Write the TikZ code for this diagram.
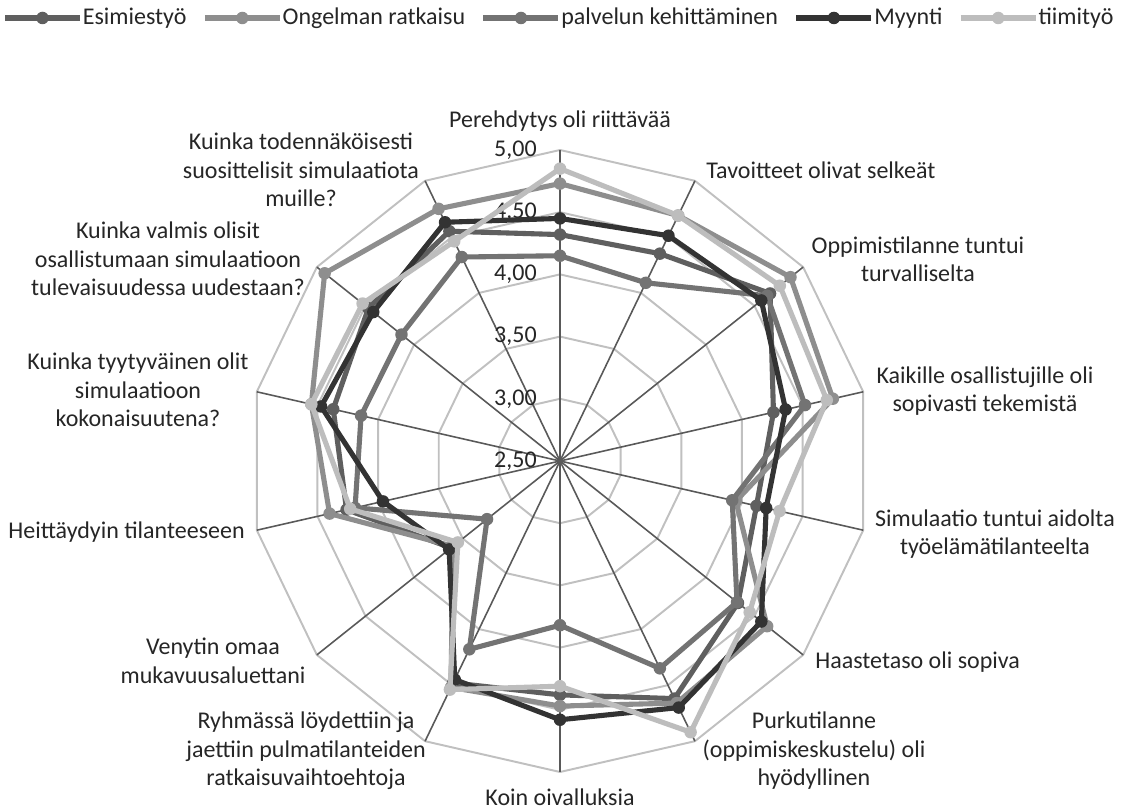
\documentclass[tikz,border=0pt]{standalone}
\usepackage{fontspec}
\setmainfont{Carlito}
\usepackage{tikz}
\usetikzlibrary{positioning}
\definecolor{gEsim}{HTML}{5F5F5F}
\definecolor{gOngel}{HTML}{8E8E8E}
\definecolor{gPalv}{HTML}{737373}
\definecolor{gMyyn}{HTML}{333333}
\definecolor{gTiimi}{HTML}{BDBDBD}
\definecolor{gRing}{HTML}{C0C0C0}
\definecolor{gSpoke}{HTML}{595959}
\definecolor{gText}{HTML}{262626}

\newcommand{\radscale}{124.4}
% #1 name prefix, #2 colour, #3 the 14 values
\newcommand{\drawseries}[3]{%
  \foreach \v [count=\k from 0] in {#3}
    \coordinate (#1\k) at ({90-\k*360/14}:{(\v-2.5)*\radscale});
  \draw[ser=#2] (#10) \foreach \k in {1,...,13}{ -- (#1\k)} -- cycle;
  \foreach \k in {0,...,13}
    \fill[#2] (#1\k) circle (0.125cm);
}

\begin{document}
\begin{tikzpicture}[x=0.02cm, y=0.02cm,
  lbl/.style={font=\fontsize{13.66}{16.2}\selectfont, text=gText, align=center, inner sep=0pt},
  tick/.style={lbl, anchor=east},
  ring/.style={draw=gRing, line width=1.1pt},
  spoke/.style={draw=gSpoke, line width=0.9pt},
  ser/.style={draw=#1, line width=2.9pt, line join=round},
  legline/.style={draw=#1, line width=2.9pt}
]
\path[use as bounding box, fill=white] (0,0) rectangle (1124,811);

\begin{scope}[shift={(560,350)}]
  \coordinate (ctr) at (0,0);
  \foreach \j in {1,...,5}
    \draw[ring] (90:{\j*62.2}) \foreach \k in {1,...,13}{ -- ({90-\k*360/14}:{\j*62.2})} -- cycle;
  \foreach \k in {0,...,13} {
    \coordinate (ax\k) at ({90-\k*360/14}:311);
    \draw[spoke] (ctr) -- (ax\k);
  }
  \foreach \t [count=\j from 0] in {{2,50},{3,00},{3,50},{4,00},{4,50},{5,00}}
    \node[tick] (tk\j) at (-23,{\j*62.2}) {\t};

  \drawseries{es}{gEsim}{4.32,4.35,4.66,4.26,4.12,4.33,4.62,4.38,4.48,3.62,4.26,4.37,4.47,4.55}
  \drawseries{on}{gOngel}{4.73,4.69,4.87,4.75,3.95,4.63,4.66,4.47,4.52,3.60,4.40,4.55,4.92,4.75}
  \drawseries{pk}{gPalv}{4.15,4.09,4.63,4.52,3.92,4.32,4.35,3.82,4.18,3.25,4.19,4.14,4.13,4.32}
  \drawseries{my}{gMyyn}{4.45,4.51,4.57,4.36,4.20,4.57,4.70,4.58,4.45,3.64,3.96,4.47,4.42,4.63}
  \drawseries{ti}{gTiimi}{4.85,4.69,4.76,4.70,4.31,4.45,4.92,4.31,4.54,3.55,4.23,4.55,4.53,4.46}
\end{scope}

% axis labels
\node[lbl] (q1) at (560,690) {Perehdytys oli riittävää};
\node[lbl,anchor=west] (q2) at (706,641) {Tavoitteet olivat selkeät};
\node[lbl] (q3) at (918,552) {Oppimistilanne tuntui\\turvalliselta};
\node[lbl] (q4) at (985,420) {Kaikille osallistujille oli\\sopivasti tekemistä};
\node[lbl] (q5) at (995,277) {Simulaatio tuntui aidolta\\työelämätilanteelta};
\node[lbl,anchor=west] (q6) at (815,149) {Haastetaso oli sopiva};
\node[lbl] (q7) at (814,60) {Purkutilanne\\(oppimiskeskustelu) oli\\hyödyllinen};
\node[lbl,anchor=base] (q8) at (560,6) {Koin oivalluksia};
\node[lbl] (q9) at (306,60) {Ryhmässä löydettiin ja\\jaettiin pulmatilanteiden\\ratkaisuvaihtoehtoja};
\node[lbl] (q10) at (213,150) {Venytin omaa\\mukavuusaluettani};
\node[lbl,anchor=east] (q11) at (245,279) {Heittäydyin tilanteeseen};
\node[lbl] (q12) at (138,421) {Kuinka tyytyväinen olit\\simulaatioon\\kokonaisuutena?};
\node[lbl] (q13) at (168,552) {Kuinka valmis olisit\\osallistumaan simulaatioon\\tulevaisuudessa uudestaan?};
\node[lbl] (q14) at (301,641) {Kuinka todennäköisesti\\suosittelisit simulaatiota\\muille?};

% legend
\coordinate (lgA) at (5,793);
\draw[legline=gEsim] (lgA) -- ++(37.5,0) coordinate (lgAm) -- ++(37.5,0) coordinate (lgAe);
\fill[gEsim] (lgAm) circle (0.125cm);
\node[lbl,right=0.05cm of lgAe] (legA) {Esimiestyö};
\coordinate[right=0.36cm of legA] (lgB);
\draw[legline=gOngel] (lgB) -- ++(37.5,0) coordinate (lgBm) -- ++(37.5,0) coordinate (lgBe);
\fill[gOngel] (lgBm) circle (0.125cm);
\node[lbl,right=0.05cm of lgBe] (legB) {Ongelman ratkaisu};
\coordinate[right=0.36cm of legB] (lgC);
\draw[legline=gPalv] (lgC) -- ++(37.5,0) coordinate (lgCm) -- ++(37.5,0) coordinate (lgCe);
\fill[gPalv] (lgCm) circle (0.125cm);
\node[lbl,right=0.05cm of lgCe] (legC) {palvelun kehittäminen};
\coordinate[right=0.36cm of legC] (lgD);
\draw[legline=gMyyn] (lgD) -- ++(37.5,0) coordinate (lgDm) -- ++(37.5,0) coordinate (lgDe);
\fill[gMyyn] (lgDm) circle (0.125cm);
\node[lbl,right=0.05cm of lgDe] (legD) {Myynti};
\coordinate[right=0.36cm of legD] (lgE);
\draw[legline=gTiimi] (lgE) -- ++(37.5,0) coordinate (lgEm) -- ++(37.5,0) coordinate (lgEe);
\fill[gTiimi] (lgEm) circle (0.125cm);
\node[lbl,right=0.05cm of lgEe] (legE) {tiimityö};
\end{tikzpicture}
\end{document}
